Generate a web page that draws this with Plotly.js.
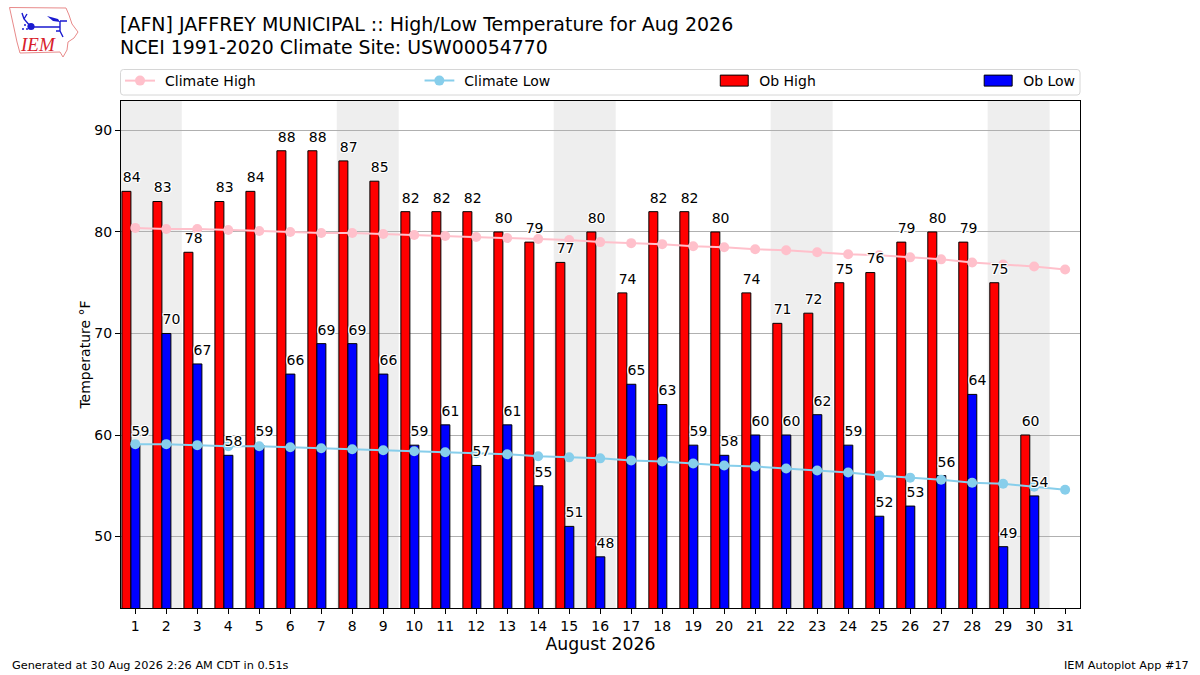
<!DOCTYPE html>
<html>
<head>
<meta charset="utf-8">
<script src="https://cdn.plot.ly/plotly-3.0.1.min.js"></script>
<style>
  html, body { margin: 0; padding: 0; background: #fff; }
  #wrap { position: relative; width: 1200px; height: 675px; overflow: hidden; }
  #chart { width: 1200px; height: 675px; }
  #logo { position: absolute; left: 0; top: 0; }
</style>
</head>
<body>
<div id="wrap">
  <div id="chart"></div>
  <!-- IEM logo -->
  <svg id="logo" width="90" height="65" viewBox="0 0 90 65">
    <path d="M9.5 7.5 L66 8 L69 15 L72 24 L78 32 L74 38 L68 42 L67 50 L63 57 L60 52 L20 53 L17 42 L14 28 Z" fill="none" stroke="#e88a8a" stroke-width="1"/>
    <path d="M31 27 L60 27 M60 21 L67 21 M60 21 L60 31 L56 31 M60 31 L63 37 M31 27 L24 19 L22 13 M24 19 L27 14" fill="none" stroke="#1a1ad0" stroke-width="1.4"/>
    <path d="M47 16 L58 19 L60 22 L53 21 Z" fill="#1a1ad0"/>
    <circle cx="31" cy="26.5" r="3.6" fill="#1a1ad0"/>
    <circle cx="25" cy="25" r="1" fill="#1a1ad0"/><circle cx="23" cy="29" r="1" fill="#1a1ad0"/><circle cx="27" cy="29" r="1" fill="#1a1ad0"/>
    <text x="21" y="51" font-family="Liberation Serif" font-style="italic" font-size="19" fill="#d8202a">IEM</text>
  </svg>
</div>
<script>
// Daily observations, Aug 2026
const days = [1, 2, 3, 4, 5, 6, 7, 8, 9, 10, 11, 12, 13, 14, 15, 16, 17, 18, 19, 20, 21, 22, 23, 24, 25, 26, 27, 28, 29, 30, 31];
const obDays = days.slice(0, 30);
const obHigh = [84, 83, 78, 83, 84, 88, 88, 87, 85, 82, 82, 82, 80, 79, 77, 80, 74, 82, 82, 80, 74, 71, 72, 75, 76, 79, 80, 79, 75, 60];
const obLow = [59, 70, 67, 58, 59, 66, 69, 69, 66, 59, 61, 57, 61, 55, 51, 48, 65, 63, 59, 58, 60, 60, 62, 59, 52, 53, 56, 64, 49, 54];

// NCEI 1991-2020 climatology
const climateHigh = [80.4, 80.3, 80.3, 80.2, 80.1, 80.0, 79.9, 79.9, 79.8, 79.7, 79.6, 79.5, 79.4, 79.3, 79.2, 79.0, 78.9, 78.8, 78.6, 78.5, 78.3, 78.2, 78.0, 77.8, 77.7, 77.5, 77.3, 77.0, 76.8, 76.6, 76.3];
const climateLow = [59.1, 59.1, 59.0, 58.9, 58.9, 58.8, 58.7, 58.6, 58.5, 58.4, 58.3, 58.2, 58.1, 57.9, 57.8, 57.7, 57.5, 57.4, 57.2, 57.0, 56.9, 56.7, 56.5, 56.3, 56.0, 55.8, 55.6, 55.3, 55.2, 54.9, 54.6];

// Saturday/Sunday pairs get the grey band
const weekends = [[0.5, 2.5], [7.5, 9.5], [14.5, 16.5], [21.5, 23.5], [28.5, 30.5]];

const yTicks = [50, 60, 70, 80, 90];
const fontFamily = '"DejaVu Sans", sans-serif';
const labelOutline = '1px 0 0 #fff, -1px 0 0 #fff, 0 1px 0 #fff, 0 -1px 0 #fff, 1px 1px 0 #fff, -1px -1px 0 #fff, 1px -1px 0 #fff, -1px 1px 0 #fff';
const labelGap = 0.55; // degrees between bar top and its label

function barTrace(name, y, color, offset, legendId) {
    return {
        type: 'bar', name: name, x: obDays, y: y, base: 0,
        width: 0.29, offset: offset,
        marker: { color: color, line: { color: '#000', width: 1 } },
        legend: legendId
    };
}

function climateTrace(name, y, color, legendId) {
    return {
        type: 'scatter', mode: 'lines+markers', name: name, x: days, y: y,
        line: { color: color, width: 2 },
        marker: { color: color, size: 10 },
        legend: legendId
    };
}

function labelTrace(y, shift) {
    return {
        type: 'scatter', mode: 'text', x: obDays.map(d => d + shift), y: y.map(v => v + labelGap),
        text: y.map(String), textposition: 'top center',
        textfont: { family: fontFamily, size: 14, color: '#000', shadow: labelOutline },
        showlegend: false, hoverinfo: 'skip', cliponaxis: false
    };
}

const traces = [
    barTrace('Ob High', obHigh, '#ff0000', -0.43, 'legend3'),
    barTrace('Ob Low', obLow, '#0000ff', -0.14, 'legend4'),
    climateTrace('Climate High', climateHigh, '#ffc0cb', 'legend'),
    climateTrace('Climate Low', climateLow, '#87ceeb', 'legend2'),
    labelTrace(obHigh, -0.115),
    labelTrace(obLow, 0.17)
];

function legendAt(x) {
    return {
        x: x, y: 1.0394, xanchor: 'left', yanchor: 'middle', orientation: 'h',
        bgcolor: 'rgba(0,0,0,0)', borderwidth: 0, itemwidth: 30,
        font: { family: fontFamily, size: 14, color: '#000' }
    };
}

const shapes = weekends.map(w => ({
    type: 'rect', layer: 'below', xref: 'x', yref: 'paper',
    x0: w[0], x1: w[1], y0: 0, y1: 1,
    fillcolor: '#eeeeee', line: { width: 0 }
}));
// rounded legend frame
shapes.push({
    type: 'path', xref: 'paper', yref: 'paper', layer: 'above',
    path: 'M0.0025,1.0621 L0.997,1.0621 Q1,1.0621 1,1.0561 L1,1.0178 Q1,1.0118 0.997,1.0118 L0.0025,1.0118 Q-0.0005,1.0118 -0.0005,1.0178 L-0.0005,1.0561 Q-0.0005,1.0621 0.0025,1.0621 Z',
    line: { color: '#d6d6d6', width: 1 }, fillcolor: 'rgba(0,0,0,0)'
});

const layout = {
    width: 1200, height: 675,
    margin: { l: 121, r: 120, t: 101, b: 67 },
    paper_bgcolor: '#fff', plot_bgcolor: '#fff',
    font: { family: fontFamily, size: 14, color: '#000' },
    barmode: 'overlay',
    title: {
        text: '[AFN] JAFFREY MUNICIPAL :: High/Low Temperature for Aug 2026',
        font: { family: fontFamily, size: 19, color: '#000' },
        x: 0.1, xref: 'container', xanchor: 'left',
        y: 0.9644, yref: 'container', yanchor: 'middle'
    },
    xaxis: {
        range: [0.54, 31.48], tickmode: 'array', tickvals: days, ticktext: days.map(String),
        ticks: 'outside', ticklen: 5, tickwidth: 1, tickcolor: '#000',
        showgrid: false, zeroline: false, showline: true, mirror: true, linecolor: '#000', linewidth: 1,
        tickangle: 0,
        title: { text: 'August 2026', font: { family: fontFamily, size: 17.3 }, standoff: 5 }
    },
    yaxis: {
        range: [42.96, 92.9], tickmode: 'array', tickvals: yTicks,
        ticks: 'outside', ticklen: 5, tickwidth: 1, tickcolor: '#000',
        showgrid: true, gridcolor: '#b0b0b0', gridwidth: 1, zeroline: false,
        showline: true, mirror: true, linecolor: '#000', linewidth: 1,
        title: { text: 'Temperature °F', font: { family: fontFamily, size: 14 }, standoff: 0 }
    },
    legend: legendAt(0.0042),
    legend2: legendAt(0.3163),
    legend3: legendAt(0.6238),
    legend4: legendAt(0.899),
    shapes: shapes,
    annotations: [
        {
            xref: 'paper', yref: 'paper', x: -0.0035, y: 1.1065, xanchor: 'left', yanchor: 'middle',
            text: 'NCEI 1991-2020 Climate Site: USW00054770', showarrow: false,
            font: { family: fontFamily, size: 18.9, color: '#000' }
        },
        {
            xref: 'paper', yref: 'paper', x: -0.1162, y: -0.114, xanchor: 'left', yanchor: 'middle',
            text: 'Generated at 30 Aug 2026 2:26 AM CDT in 0.51s', showarrow: false,
            font: { family: fontFamily, size: 11.3, color: '#000' }
        },
        {
            xref: 'paper', yref: 'paper', x: 1.1157, y: -0.114, xanchor: 'right', yanchor: 'middle',
            text: 'IEM Autoplot App #17', showarrow: false,
            font: { family: fontFamily, size: 11.3, color: '#000' }
        }
    ]
};

// plotly draws bar legend swatches as squares, reference has wide patches,
// and the line handles sit a few px further left
function fixLegendSymbols() {
    document.querySelectorAll('.legendpoints path:not(.scatterpts)').forEach(p => {
        p.setAttribute('d', 'M9,5.5H-19V-5.5H9Z');
    });
    document.querySelectorAll('.legendpoints path.scatterpts').forEach(p => {
        const symbols = p.closest('.legendsymbols');
        const lines = symbols.parentNode.querySelector('.legendlines');
        symbols.setAttribute('transform', 'translate(-5,0)');
        if (lines) lines.setAttribute('transform', 'translate(-5,0)');
    });
}

Plotly.newPlot('chart', traces, layout, { displayModeBar: false, responsive: false }).then(() => {
    fixLegendSymbols();
    setTimeout(fixLegendSymbols, 100);
});
</script>
</body>
</html>
